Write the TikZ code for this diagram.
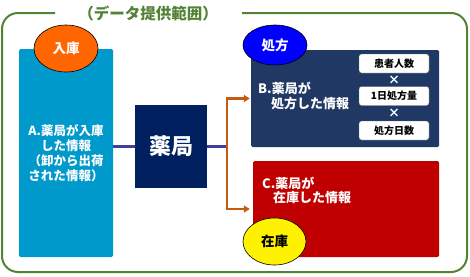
\documentclass[tikz,border=0pt]{standalone}
\usepackage{fontspec}
\setmainfont{Noto Sans CJK JP}
\usetikzlibrary{arrows.meta,shapes.geometric}
\definecolor{frameg}{HTML}{548235}
\definecolor{boxA}{HTML}{0099CC}
\definecolor{navy}{HTML}{002060}
\definecolor{boxB}{HTML}{203864}
\definecolor{boxC}{HTML}{C00000}
\definecolor{brk}{HTML}{C55A11}
\definecolor{purp}{HTML}{403F9C}
\definecolor{ellO}{HTML}{FF6600}
\tikzset{
  bigbox/.style={rectangle,rounded corners=1.5pt,inner sep=0pt},
  smallbox/.style={rectangle,draw=black!60,line width=0.4pt,fill=white,rounded corners=2.5pt,minimum width=70pt,minimum height=19pt,inner sep=0pt,font=\fontsize{10}{11}\selectfont\bfseries},
  lab/.style={ellipse,draw=black,line width=0.6pt,inner sep=0pt,font=\fontsize{13.5}{15}\selectfont\bfseries},
  wtxt/.style={text=white,font=\fontsize{12.5}{15}\selectfont\bfseries,inner sep=0pt},
  btxt/.style={text=white,font=\fontsize{13}{15}\selectfont\bfseries,inner sep=0pt,anchor=west},
  purpline/.style={draw=purp,line width=3pt},
  brkline/.style={draw=brk,line width=2.5pt},
  brkarrow/.style={draw=brk,line width=2.5pt,-{Triangle[length=6pt,width=7pt]}},
}
\begin{document}
\begin{tikzpicture}[x=1pt,y=-1pt]
\useasboundingbox (0,0) rectangle (470,276);
% frame
\draw[frameg,line width=2pt,rounded corners=16pt] (55,13) -- (2,13) -- (2,272) -- (467,272) -- (467,13) -- (242,13);
\node[text=frameg,font=\fontsize{15.5}{17}\selectfont\bfseries,inner sep=0pt] (title) at (148,13) {（データ提供範囲）};
% boxes
\node[bigbox,fill=boxA,minimum width=94pt,minimum height=208pt] (A) at (66,153) {};
\node[wtxt,align=center] (Atxt) at (66,153) {A.薬局が入庫\\した情報\\（卸から出荷\\された情報）};
\node[rectangle,fill=navy,minimum width=72pt,minimum height=83pt,inner sep=0pt,text=white,font=\fontsize{22}{24}\selectfont\bfseries] (Y) at (171,146) {薬局};
\node[bigbox,fill=boxB,minimum width=188pt,minimum height=97pt] (B) at (345,98.5) {};
\node[bigbox,fill=boxC,minimum width=186pt,minimum height=96pt] (C) at (346,209) {};
% texts
\node[btxt] (Bt1) at (258,88) {B.薬局が};
\node[btxt] (Bt2) at (271,104) {処方した情報};
\node[btxt] (Ct1) at (262,183) {C.薬局が};
\node[btxt] (Ct2) at (273,198) {在庫した情報};
% small boxes
\node[smallbox] (s1) at (394,63.5) {患者人数};
\node[text=white,font=\fontsize{12}{12}\selectfont\bfseries,inner sep=0pt] (x1) at (394,80) {×};
\node[smallbox] (s2) at (394,96) {1日処方量};
\node[text=white,font=\fontsize{12}{12}\selectfont\bfseries,inner sep=0pt] (x2) at (394,113) {×};
\node[smallbox] (s3) at (394,130.5) {処方日数};
% connectors
\coordinate (bx) at (227,146);
\draw[purpline] (A.east |- Y.west) -- (Y.west);
\draw[purpline] (Y.east) -- (bx);
\draw[brkline] (B.west -| bx) -- (C.west -| bx);
\draw[brkarrow] ([xshift=-1.25pt]B.west -| bx) -- ([xshift=-1pt]B.west);
\draw[brkarrow] ([xshift=-1.25pt]C.west -| bx) -- ([xshift=-3pt]C.west);
% ellipse labels
\node[lab,fill=ellO,text=white,minimum width=64pt,minimum height=47pt] (e1) at (66,48.5) {入庫};
\node[lab,fill=blue,text=white,minimum width=64pt,minimum height=40pt] (e2) at (275,45) {処方};
\node[lab,fill=yellow,text=black,minimum width=63pt,minimum height=47pt] (e3) at (274.5,241.5) {在庫};
\end{tikzpicture}
\end{document}
